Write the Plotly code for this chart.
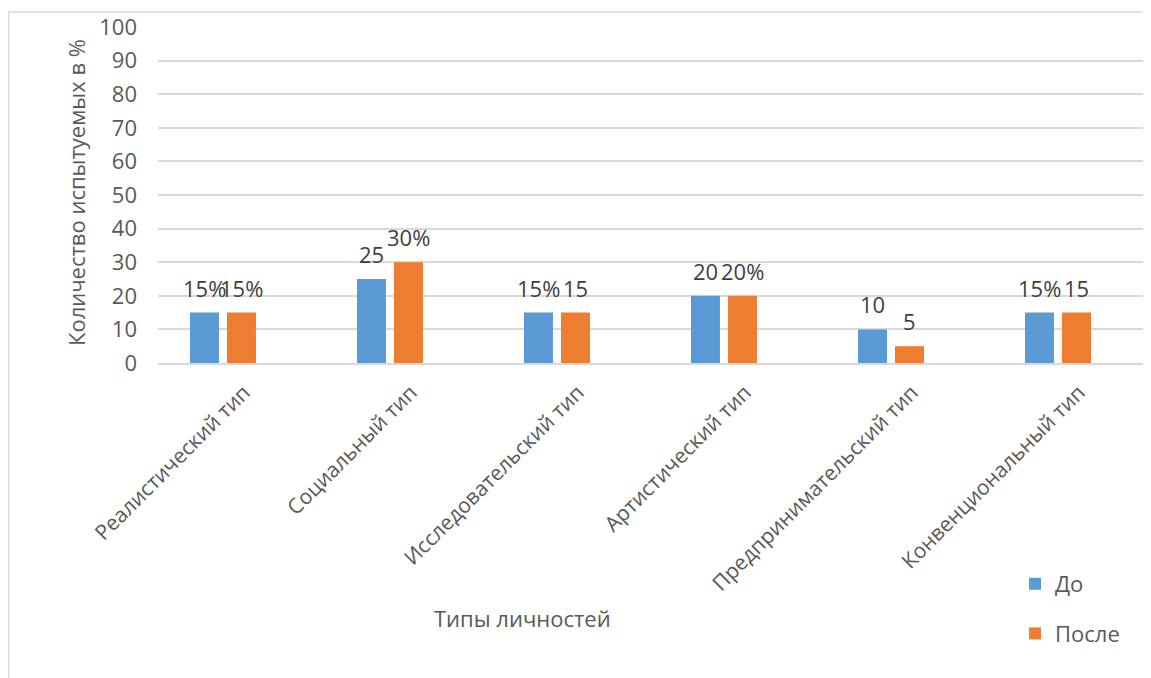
import plotly.graph_objects as go

categories = ["Реалистический тип", "Социальный тип", "Исследовательский тип",
              "Артистический тип", "Предпринимательский тип", "Конвенциональный тип"]
before_vals = [15, 25, 15, 20, 10, 15]
after_vals = [15, 30, 15, 20, 5, 15]
before_labels = ["15%", "25", "15%", "20", "10", "15%"]
after_labels = ["15%", "30%", "15", "20%", "5", "15"]
y_ticks = [0, 10, 20, 30, 40, 50, 60, 70, 80, 90, 100]

BLUE = "#5B9BD5"
ORANGE = "#ED7D31"
TXT = "#595959"
GRID = "#D9D9D9"
FONT = "Open Sans"

OFF = 8  # page body margin
W, H = 1151 - OFF, 678 - OFF
# target plot area in page pixels: x 158..1151, y 27..363
L = 158 - OFF
T = 27 - OFF
R = 0
B = H - (363 - OFF)
pw = W - L - R
ph = H - T - B

X_RANGE = [-0.389, 5.557]
cat_px = pw / (X_RANGE[1] - X_RANGE[0])
LABEL_SHIFT = 21 / cat_px  # tick labels end slightly right of category centre

def px_x(p):
    return (p - OFF - L) / pw

def px_y(p):
    return (H - B - (p - OFF)) / ph

fig = go.Figure()
fig.add_trace(go.Bar(x=categories, y=before_vals, name="До", marker_color=BLUE,
                     legendgroup="a", marker_line_width=0))
fig.add_trace(go.Bar(x=categories, y=after_vals, name="После", marker_color=ORANGE,
                     legendgroup="b", marker_line_width=0))
# carrier for the category tick labels (drawn on an overlaid axis)
fig.add_trace(go.Scatter(x=categories, y=[None] * len(categories), xaxis="x2",
                         mode="markers", showlegend=False, hoverinfo="skip"))

annotations = []
for i, c in enumerate(categories):
    annotations.append(dict(x=c, y=before_vals[i], xref="x", yref="y", text=before_labels[i],
                            showarrow=False, xshift=-18.5, yshift=8, yanchor="bottom",
                            font=dict(family=FONT, size=22, color="#404040")))
    annotations.append(dict(x=c, y=after_vals[i], xref="x", yref="y", text=after_labels[i],
                            showarrow=False, xshift=18.5, yshift=8, yanchor="bottom",
                            font=dict(family=FONT, size=22, color="#404040")))

annotations.append(dict(text="Количество испытуемых в %", xref="paper", yref="paper",
                        x=px_x(76), y=px_y(193), textangle=-90, showarrow=False,
                        xanchor="center", yanchor="middle",
                        font=dict(family=FONT, size=22, color=TXT)))
annotations.append(dict(text="Типы личностей", xref="paper", yref="paper",
                        x=px_x(522), y=px_y(618), showarrow=False,
                        xanchor="center", yanchor="middle",
                        font=dict(family=FONT, size=22, color=TXT)))

shapes = [
    dict(type="line", xref="paper", yref="paper", x0=px_x(8.5), x1=px_x(8.5),
         y0=px_y(12), y1=px_y(700), line=dict(color=GRID, width=1.5)),
    dict(type="line", xref="paper", yref="paper", x0=px_x(8.5), x1=px_x(1200),
         y0=px_y(12), y1=px_y(12), line=dict(color=GRID, width=1.5)),
]

fig.update_layout(
    width=W, height=H,
    margin=dict(l=L, r=R, t=T, b=B, autoexpand=False),
    paper_bgcolor="white", plot_bgcolor="white",
    barmode="group", bargap=0.557, bargroupgap=0.216,
    font=dict(family=FONT, size=20, color=TXT),
    xaxis=dict(range=X_RANGE, showline=True, linecolor=GRID, linewidth=1.5,
               type="category", categoryorder="array", categoryarray=categories,
               showticklabels=False, ticks="", showgrid=False, automargin=False),
    xaxis2=dict(range=[X_RANGE[0] - LABEL_SHIFT, X_RANGE[1] - LABEL_SHIFT],
                overlaying="x", anchor="y", side="bottom",
                type="category", categoryorder="array", categoryarray=categories,
                tickangle=-45, ticks="", ticklabelstandoff=12, showgrid=False,
                showline=False, zeroline=False,
                tickfont=dict(family=FONT, size=21, color=TXT), automargin=False),
    yaxis=dict(range=[0, 100], tickvals=y_ticks, showgrid=True, gridcolor=GRID,
               gridwidth=1.5, zeroline=False, ticks="", ticklabelstandoff=20,
               tickfont=dict(family=FONT, size=22, color=TXT), automargin=False),
    legend=dict(x=px_x(1015), y=px_y(563), xanchor="left", yanchor="top",
                font=dict(family=FONT, size=22, color=TXT), tracegroupgap=18,
                bgcolor="rgba(0,0,0,0)"),
    annotations=annotations,
    shapes=shapes,
)

fig.write_html("out.html")
